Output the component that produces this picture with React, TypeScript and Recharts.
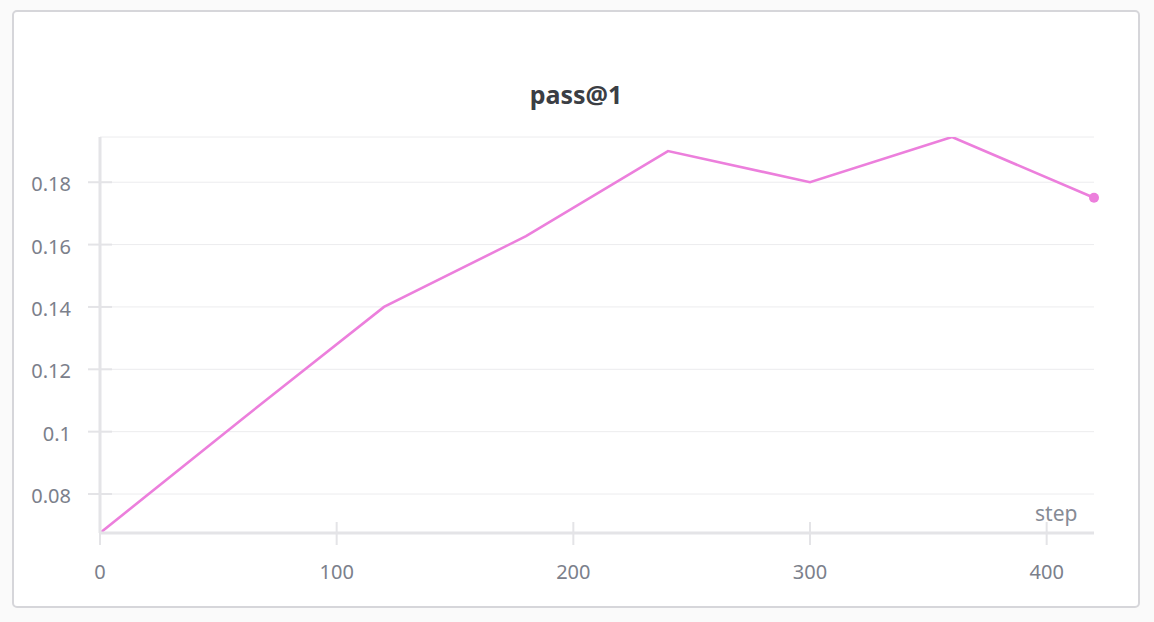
import React from "react";
import { LineChart, Line, XAxis, YAxis, CartesianGrid } from "recharts";

const steps = [0, 60, 120, 180, 240, 300, 360, 420];
const pass1 = [0.0675, 0.104, 0.14, 0.1627, 0.19, 0.18, 0.1945, 0.175];
const xTicks = [0, 100, 200, 300, 400];
const yTicks = [0.08, 0.1, 0.12, 0.14, 0.16, 0.18];

const data = steps.map((s, i) => ({ step: s, pass1: pass1[i] }));

const FONT = "'Noto Sans', 'Open Sans', sans-serif";
const LINE_COLOR = "#ec7fdc";
const AXIS_COLOR = "#e4e4e7";
const TICK_TEXT = "#7b808b";

const YTick = (props: any) => {
    const { x, y, payload } = props;
    return (
        <g>
            <line x1={x - 4} x2={x + 20} y1={y} y2={y} stroke={AXIS_COLOR} strokeWidth={2} />
            <text x={x - 21} y={y + 9} textAnchor="end" fill={TICK_TEXT} fontSize={20} fontFamily={FONT}>
                {String(Number(payload.value.toFixed(2)))}
            </text>
        </g>
    );
};

const XTick = (props: any) => {
    const { x, y, payload } = props;
    return (
        <g>
            <line x1={x} x2={x} y1={y - 19} y2={y + 4} stroke={AXIS_COLOR} strokeWidth={2} />
            <text x={x} y={y + 38} textAnchor="middle" fill={TICK_TEXT} fontSize={20} fontFamily={FONT}>
                {payload.value}
            </text>
        </g>
    );
};

const EndDot = (props: any) => {
    const { cx, cy, index } = props;
    if (index !== data.length - 1) return <g key={index} />;
    return <circle key={index} cx={cx} cy={cy} r={5} fill={LINE_COLOR} />;
};

export default function App() {
    return (
        <div style={{ position: "fixed", left: 0, top: 0, width: 1154, height: 622, background: "#fafafa", fontFamily: FONT }}>
            <div
                style={{
                    position: "absolute",
                    left: 12,
                    top: 10,
                    width: 1124,
                    height: 594,
                    border: "2px solid #d6d6da",
                    borderRadius: 5,
                    background: "#ffffff",
                }}
            />
            <div style={{ position: "absolute", left: 0, top: 0 }}>
                <LineChart width={1154} height={622} data={data} margin={{ top: 137, right: 60, bottom: 49, left: 40 }}>
                    <CartesianGrid horizontal vertical={false} stroke="#ececee" strokeWidth={1} />
                    <XAxis
                        dataKey="step"
                        type="number"
                        domain={[0, 420]}
                        ticks={xTicks}
                        height={40}
                        axisLine={{ stroke: AXIS_COLOR, strokeWidth: 3 }}
                        tickLine={false}
                        tick={<XTick />}
                        interval={0}
                    />
                    <YAxis
                        type="number"
                        domain={[0.0675, 0.1945]}
                        ticks={yTicks}
                        width={60}
                        axisLine={{ stroke: AXIS_COLOR, strokeWidth: 3 }}
                        tickLine={false}
                        tick={<YTick />}
                        interval={0}
                        allowDataOverflow
                    />
                    <Line
                        type="linear"
                        dataKey="pass1"
                        stroke={LINE_COLOR}
                        strokeWidth={2.6}
                        dot={EndDot}
                        activeDot={false}
                        isAnimationActive={false}
                    />
                </LineChart>
            </div>
            <svg width={1154} height={622} style={{ position: "absolute", left: 0, top: 0, pointerEvents: "none" }}>
                <text x={576} y={104} textAnchor="middle" fontSize={25} fontWeight={700} fill="#3b3e44" fontFamily={FONT}>
                    pass@1
                </text>
                <text x={1035} y={521} fontSize={21} fill="#868b95" fontFamily={FONT}>
                    step
                </text>
            </svg>
        </div>
    );
}
